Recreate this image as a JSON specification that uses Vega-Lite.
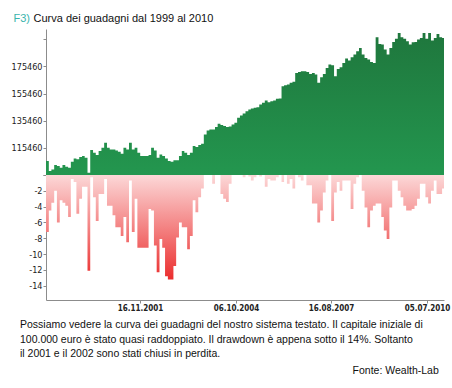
{
  "$schema": "https://vega.github.io/schema/vega-lite/v6.json",
  "background": "white",
  "padding": {"left": 11, "top": 12, "right": 5, "bottom": 5},
  "data": {"values": [
    {"d": "1999-01-18", "eq": 105750, "dd": -7.2},
    {"d": "1999-02-18", "eq": 98400, "dd": -4.5},
    {"d": "1999-03-18", "eq": 99600, "dd": -3.5},
    {"d": "1999-04-18", "eq": 102800, "dd": -2.0},
    {"d": "1999-05-18", "eq": 102100, "dd": -6.0},
    {"d": "1999-06-18", "eq": 100850, "dd": -3.2},
    {"d": "1999-07-18", "eq": 102800, "dd": -3.5},
    {"d": "1999-08-18", "eq": 101600, "dd": -3.9},
    {"d": "1999-09-18", "eq": 100850, "dd": -5.3},
    {"d": "1999-10-18", "eq": 105260, "dd": -0.5},
    {"d": "1999-11-18", "eq": 107700, "dd": -0.9},
    {"d": "1999-12-18", "eq": 106970, "dd": -4.9},
    {"d": "2000-01-18", "eq": 108690, "dd": -3.0},
    {"d": "2000-02-18", "eq": 109420, "dd": -1.5},
    {"d": "2000-03-18", "eq": 108200, "dd": -1.5},
    {"d": "2000-04-18", "eq": 97200, "dd": -12.1},
    {"d": "2000-05-18", "eq": 113800, "dd": -0.3},
    {"d": "2000-06-18", "eq": 111900, "dd": -2.8},
    {"d": "2000-07-18", "eq": 110160, "dd": -5.8},
    {"d": "2000-08-18", "eq": 113100, "dd": -2.4},
    {"d": "2000-09-18", "eq": 115550, "dd": -2.4},
    {"d": "2000-10-18", "eq": 119225, "dd": -0.5},
    {"d": "2000-11-18", "eq": 115550, "dd": -3.9},
    {"d": "2000-12-18", "eq": 114300, "dd": -3.9},
    {"d": "2001-01-18", "eq": 114300, "dd": -5.1},
    {"d": "2001-02-18", "eq": 113590, "dd": -6.6},
    {"d": "2001-03-18", "eq": 112600, "dd": -6.6},
    {"d": "2001-04-18", "eq": 111140, "dd": -7.7},
    {"d": "2001-05-18", "eq": 115550, "dd": -5.3},
    {"d": "2001-06-18", "eq": 114300, "dd": -8.5},
    {"d": "2001-07-18", "eq": 119225, "dd": -0.7},
    {"d": "2001-08-18", "eq": 114300, "dd": -7.2},
    {"d": "2001-09-18", "eq": 115550, "dd": -3.0},
    {"d": "2001-10-18", "eq": 111900, "dd": -9.2},
    {"d": "2001-11-18", "eq": 109420, "dd": -9.2},
    {"d": "2001-12-18", "eq": 109420, "dd": -9.2},
    {"d": "2002-01-18", "eq": 109420, "dd": -9.2},
    {"d": "2002-02-18", "eq": 110160, "dd": -4.3},
    {"d": "2002-03-18", "eq": 115550, "dd": -4.5},
    {"d": "2002-04-18", "eq": 113590, "dd": -8.9},
    {"d": "2002-05-18", "eq": 108200, "dd": -12.3},
    {"d": "2002-06-18", "eq": 110650, "dd": -8.1},
    {"d": "2002-07-18", "eq": 109420, "dd": -9.2},
    {"d": "2002-08-18", "eq": 107700, "dd": -12.8},
    {"d": "2002-09-18", "eq": 105750, "dd": -13.2},
    {"d": "2002-10-18", "eq": 105260, "dd": -13.2},
    {"d": "2002-11-18", "eq": 106240, "dd": -11.5},
    {"d": "2002-12-18", "eq": 106240, "dd": -7.9},
    {"d": "2003-01-18", "eq": 109420, "dd": -6.0},
    {"d": "2003-02-18", "eq": 113100, "dd": -6.6},
    {"d": "2003-03-18", "eq": 111900, "dd": -6.6},
    {"d": "2003-04-18", "eq": 110160, "dd": -9.4},
    {"d": "2003-05-18", "eq": 111900, "dd": -7.7},
    {"d": "2003-06-18", "eq": 116780, "dd": -3.2},
    {"d": "2003-07-18", "eq": 116040, "dd": -4.7},
    {"d": "2003-08-18", "eq": 117510, "dd": -2.8},
    {"d": "2003-09-18", "eq": 118490, "dd": -1.7},
    {"d": "2003-10-18", "eq": 125350, "dd": 0},
    {"d": "2003-11-18", "eq": 128290, "dd": 0},
    {"d": "2003-12-18", "eq": 129025, "dd": 0},
    {"d": "2004-01-18", "eq": 129025, "dd": -1.1},
    {"d": "2004-02-18", "eq": 130740, "dd": 0},
    {"d": "2004-03-18", "eq": 133190, "dd": 0},
    {"d": "2004-04-18", "eq": 132210, "dd": -2.4},
    {"d": "2004-05-18", "eq": 131475, "dd": -3.0},
    {"d": "2004-06-18", "eq": 130740, "dd": -3.4},
    {"d": "2004-07-18", "eq": 131230, "dd": -1.1},
    {"d": "2004-08-18", "eq": 132700, "dd": 0},
    {"d": "2004-09-18", "eq": 133925, "dd": 0},
    {"d": "2004-10-18", "eq": 137600, "dd": 0},
    {"d": "2004-11-18", "eq": 139315, "dd": 0},
    {"d": "2004-12-18", "eq": 140785, "dd": -0.3},
    {"d": "2005-01-18", "eq": 142500, "dd": 0},
    {"d": "2005-02-18", "eq": 143725, "dd": -0.2},
    {"d": "2005-03-18", "eq": 144460, "dd": -0.7},
    {"d": "2005-04-18", "eq": 144950, "dd": -0.3},
    {"d": "2005-05-18", "eq": 145440, "dd": 0},
    {"d": "2005-06-18", "eq": 147400, "dd": -0.2},
    {"d": "2005-07-18", "eq": 148625, "dd": 0},
    {"d": "2005-08-18", "eq": 150340, "dd": -1.5},
    {"d": "2005-09-18", "eq": 149115, "dd": -0.5},
    {"d": "2005-10-18", "eq": 149850, "dd": -0.7},
    {"d": "2005-11-18", "eq": 150340, "dd": -0.7},
    {"d": "2005-12-18", "eq": 151565, "dd": -0.3},
    {"d": "2006-01-18", "eq": 151810, "dd": 0},
    {"d": "2006-02-18", "eq": 160875, "dd": -0.9},
    {"d": "2006-03-18", "eq": 161610, "dd": 0},
    {"d": "2006-04-18", "eq": 162100, "dd": -1.1},
    {"d": "2006-05-18", "eq": 163325, "dd": -0.5},
    {"d": "2006-06-18", "eq": 164060, "dd": -1.7},
    {"d": "2006-07-18", "eq": 170675, "dd": 0},
    {"d": "2006-08-18", "eq": 171400, "dd": -0.3},
    {"d": "2006-09-18", "eq": 171900, "dd": -0.7},
    {"d": "2006-10-18", "eq": 171900, "dd": 0},
    {"d": "2006-11-18", "eq": 171400, "dd": -1.3},
    {"d": "2006-12-18", "eq": 169940, "dd": -1.3},
    {"d": "2007-01-18", "eq": 170675, "dd": -3.6},
    {"d": "2007-02-18", "eq": 169450, "dd": -3.6},
    {"d": "2007-03-18", "eq": 163325, "dd": -6.0},
    {"d": "2007-04-18", "eq": 167500, "dd": -4.5},
    {"d": "2007-05-18", "eq": 169940, "dd": -2.2},
    {"d": "2007-06-18", "eq": 174350, "dd": -0.7},
    {"d": "2007-07-18", "eq": 176800, "dd": 0},
    {"d": "2007-08-18", "eq": 176300, "dd": -5.8},
    {"d": "2007-09-18", "eq": 168200, "dd": -2.2},
    {"d": "2007-10-18", "eq": 173600, "dd": -0.9},
    {"d": "2007-11-18", "eq": 174800, "dd": -2.0},
    {"d": "2007-12-18", "eq": 178000, "dd": -0.7},
    {"d": "2008-01-18", "eq": 181210, "dd": -0.7},
    {"d": "2008-02-18", "eq": 179740, "dd": -0.7},
    {"d": "2008-03-18", "eq": 182190, "dd": -4.3},
    {"d": "2008-04-18", "eq": 184150, "dd": -1.1},
    {"d": "2008-05-18", "eq": 186600, "dd": -0.3},
    {"d": "2008-06-18", "eq": 189050, "dd": 0},
    {"d": "2008-07-18", "eq": 184150, "dd": -2.0},
    {"d": "2008-08-18", "eq": 181700, "dd": -4.1},
    {"d": "2008-09-18", "eq": 180475, "dd": -6.6},
    {"d": "2008-10-18", "eq": 178760, "dd": -4.5},
    {"d": "2008-11-18", "eq": 178025, "dd": -3.9},
    {"d": "2008-12-18", "eq": 196890, "dd": -3.6},
    {"d": "2009-01-18", "eq": 191990, "dd": -3.6},
    {"d": "2009-02-18", "eq": 191500, "dd": -5.3},
    {"d": "2009-03-18", "eq": 187825, "dd": -7.0},
    {"d": "2009-04-18", "eq": 184150, "dd": -8.1},
    {"d": "2009-05-18", "eq": 189050, "dd": -4.1},
    {"d": "2009-06-18", "eq": 193460, "dd": -0.7},
    {"d": "2009-07-18", "eq": 195910, "dd": -0.7},
    {"d": "2009-08-18", "eq": 200075, "dd": -2.0},
    {"d": "2009-09-18", "eq": 196890, "dd": -2.8},
    {"d": "2009-10-18", "eq": 195910, "dd": -3.9},
    {"d": "2009-11-18", "eq": 193950, "dd": -4.5},
    {"d": "2009-12-18", "eq": 191500, "dd": -4.5},
    {"d": "2010-01-18", "eq": 193215, "dd": -4.3},
    {"d": "2010-02-18", "eq": 193460, "dd": -3.9},
    {"d": "2010-03-18", "eq": 195175, "dd": -3.0},
    {"d": "2010-04-18", "eq": 196400, "dd": -1.1},
    {"d": "2010-05-18", "eq": 200075, "dd": -1.1},
    {"d": "2010-06-18", "eq": 195910, "dd": -2.8},
    {"d": "2010-07-18", "eq": 200075, "dd": -3.6},
    {"d": "2010-08-18", "eq": 194440, "dd": -2.0},
    {"d": "2010-09-18", "eq": 196400, "dd": -0.7},
    {"d": "2010-10-18", "eq": 199400, "dd": -2.4},
    {"d": "2010-11-18", "eq": 196890, "dd": -2.4},
    {"d": "2010-12-18", "eq": 196400, "dd": -1.7},
    {"d": "2011-01-18", "eq": 197625, "dd": -1.7}
  ]},
  "title": {
    "text": "Fonte: Wealth-Lab",
    "orient": "bottom",
    "anchor": "end",
    "font": "Liberation Sans, Arial, sans-serif",
    "fontSize": 10.5,
    "fontWeight": "normal",
    "color": "#111111",
    "offset": 6,
    "dx": -11
  },
  "spacing": 0,
  "bounds": "flush",
  "vconcat": [
    {
      "width": 398,
      "height": 146,
      "mark": {
        "type": "area",
        "interpolate": "step-after",
        "clip": true,
        "color": {
          "gradient": "linear",
          "x1": 0, "y1": 0, "x2": 0, "y2": 1,
          "stops": [
            {"offset": 0, "color": "#1f773d"},
            {"offset": 0.5, "color": "#23954e"},
            {"offset": 1, "color": "#2eb87d"}
          ]
        }
      },
      "encoding": {
        "x": {
          "field": "d",
          "type": "temporal",
          "scale": {"domain": [{"year": 1999, "month": 1, "date": 18}, {"year": 2011, "month": 1, "date": 8}]},
          "axis": {
            "orient": "top",
            "labels": false,
            "ticks": false,
            "domain": false,
            "title": "Curva dei guadagni  dal 1999 al 2010",
            "titleX": -13,
            "titleY": -8,
            "titleAlign": "left",
            "titleAnchor": null,
            "titleBaseline": "alphabetic",
            "titleColor": "#111111",
            "titleFont": "Liberation Sans, Arial, sans-serif",
            "titleFontSize": 11,
            "titleFontWeight": "normal"
          }
        },
        "y": {
          "field": "eq",
          "type": "quantitative",
          "scale": {"domain": [95460, 203000], "zero": false, "nice": false},
          "axis": {
            "values": [95460, 115460, 135460, 155460, 175460, 195460],
            "format": "d",
            "labelExpr": "datum.value == 95460 || datum.value == 195460 ? '' : datum.label",
            "title": "F3)",
            "titleAngle": 0,
            "titleX": -33,
            "titleY": -8,
            "titleAlign": "left",
            "titleBaseline": "alphabetic",
            "titleColor": "#3ab5ad",
            "titleFont": "Liberation Sans, Arial, sans-serif",
            "titleFontSize": 11,
            "titleFontWeight": "normal"
          }
        }
      }
    },
    {
      "width": 398,
      "height": 125,
      "title": {
        "text": [
          "Possiamo vedere la curva dei guadagni del nostro sistema testato. Il capitale iniziale di",
          "100.000 euro è stato quasi raddoppiato. Il drawdown è appena sotto il 14%. Soltanto",
          "il 2001 e il 2002 sono stati chiusi in perdita."
        ],
        "orient": "bottom",
        "anchor": "start",
        "frame": "group",
        "baseline": "top",
        "dx": -26,
        "offset": 8,
        "lineHeight": 14.7,
        "font": "Liberation Sans, Arial, sans-serif",
        "fontSize": 10.5,
        "fontWeight": "normal",
        "color": "#111111"
      },
      "mark": {
        "type": "area",
        "interpolate": "step-after",
        "clip": true,
        "color": {
          "gradient": "linear",
          "x1": 0, "y1": 0, "x2": 0, "y2": 1,
          "stops": [
            {"offset": 0, "color": "#fcd8d8"},
            {"offset": 1, "color": "#eb2e2e"}
          ]
        }
      },
      "encoding": {
        "x": {
          "field": "d",
          "type": "temporal",
          "scale": {"domain": [{"year": 1999, "month": 1, "date": 18}, {"year": 2011, "month": 1, "date": 8}]},
          "axis": {
            "values": [
              {"year": 2001, "month": 11, "date": 16},
              {"year": 2004, "month": 10, "date": 6},
              {"year": 2007, "month": 8, "date": 16},
              {"year": 2010, "month": 7, "date": 5}
            ],
            "format": "%d.%m.%Y",
            "title": null,
            "labelFontWeight": "bold",
            "labelFontSize": 8,
            "labelFlush": false,
            "labelOverlap": false
          }
        },
        "y": {
          "field": "dd",
          "type": "quantitative",
          "scale": {"domain": [-15.8, 0], "nice": false},
          "axis": {
            "values": [0, -2, -4, -6, -8, -10, -12, -14],
            "labelExpr": "datum.value == 0 ? '' : '-' + abs(datum.value)",
            "title": null
          }
        }
      }
    }
  ],
  "config": {
    "view": {"stroke": null},
    "axis": {
      "domainColor": "#8c8c8c",
      "tickColor": "#8c8c8c",
      "tickSize": 3,
      "labelPadding": 1,
      "labelFont": "Liberation Sans Narrow, Arial Narrow, DejaVu Sans Condensed, sans-serif",
      "labelFontSize": 9,
      "labelColor": "#222222",
      "grid": false
    }
  }
}
